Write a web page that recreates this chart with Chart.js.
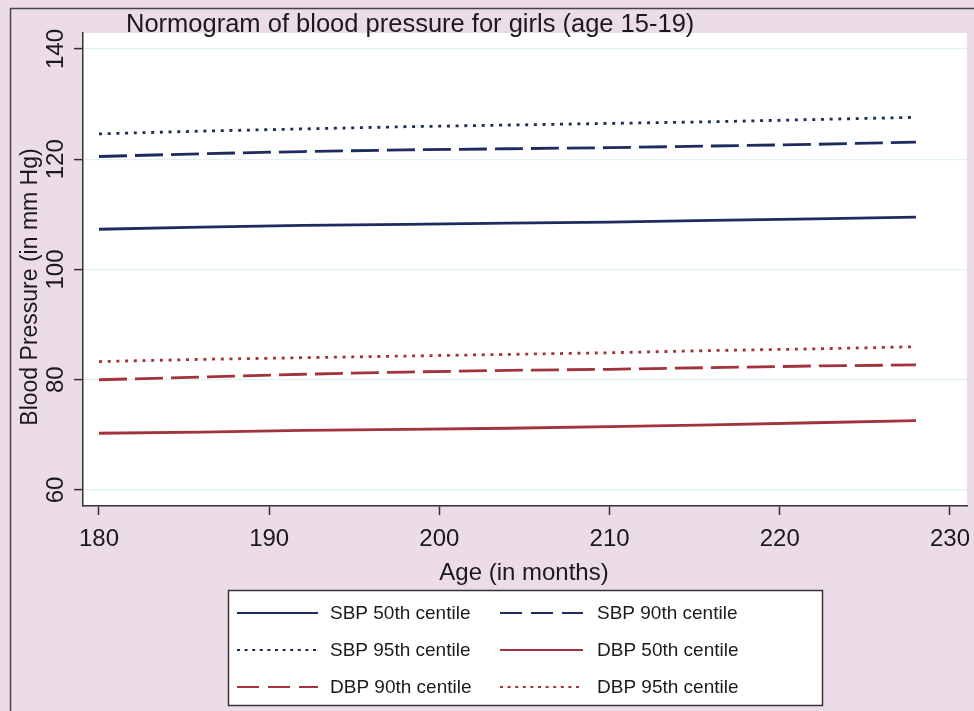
<!DOCTYPE html>
<html>
<head>
<meta charset="utf-8">
<script src="https://cdn.jsdelivr.net/npm/chart.js@4/dist/chart.umd.min.js"></script>
<style>
  html, body { margin: 0; padding: 0; background: #ecdce8; }
  canvas { display: block; }
</style>
</head>
<body>
<canvas id="bp" width="974" height="711"></canvas>
<script>
// ages (months)
var ages = [180, 186, 192, 198, 204, 210, 216, 222, 228];

var sbp50 = [107.3, 107.7, 108.0, 108.2, 108.4, 108.6, 108.9, 109.2, 109.5];
var sbp90 = [120.5, 121.0, 121.4, 121.7, 121.9, 122.1, 122.4, 122.7, 123.1];
var sbp95 = [124.6, 125.1, 125.5, 125.9, 126.2, 126.5, 126.8, 127.2, 127.6];
var dbp50 = [70.3, 70.5, 70.8, 71.0, 71.2, 71.5, 71.8, 72.2, 72.6];
var dbp90 = [80.0, 80.5, 81.0, 81.4, 81.7, 81.9, 82.2, 82.5, 82.7];
var dbp95 = [83.3, 83.7, 84.0, 84.3, 84.6, 84.9, 85.3, 85.6, 86.0];

var seriesNames = ["SBP 50th centile", "SBP 90th centile", "SBP 95th centile",
                   "DBP 50th centile", "DBP 90th centile", "DBP 95th centile"];

var xTicks = [180, 190, 200, 210, 220, 230];
var yTicks = [60, 80, 100, 120, 140];

var titleText = "Normogram of blood pressure for girls (age 15-19)";
var xTitle = "Age (in months)";
var yTitle = "Blood Pressure (in mm Hg)";

var NAVY = "#1e2b5e";
var RED = "#a2323c";
var FONT = "'Liberation Sans', Arial, sans-serif";
var TXT = "#1a1a1a";

var solid = [];
var longDash = [28, 8];
var dots = [3, 5.7];

function pts(vals) {
    var out = [];
    for (var i = 0; i < ages.length; i++) {
        out.push({x: ages[i], y: vals[i]});
    }
    return out;
}

function ds(label, vals, color, dash) {
    return {
        label: label,
        data: pts(vals),
        borderColor: color,
        backgroundColor: color,
        borderWidth: 2.8,
        borderDash: dash,
        pointRadius: 0,
        tension: 0,
        fill: false
    };
}

// white plot region, frame, texts and legend box
var decor = {
    id: "decor",
    beforeDraw: function (chart) {
        var ctx = chart.ctx, a = chart.chartArea;
        ctx.save();
        ctx.fillStyle = "#ecdce8";
        ctx.fillRect(0, 0, chart.width, chart.height);
        ctx.strokeStyle = "#444";
        ctx.lineWidth = 1.5;
        ctx.beginPath();
        ctx.moveTo(10.5, chart.height + 2);
        ctx.lineTo(10.5, 8.5);
        ctx.lineTo(chart.width + 2, 8.5);
        ctx.stroke();
        ctx.fillStyle = "#ffffff";
        ctx.fillRect(a.left, a.top, a.right - a.left, a.bottom - a.top);
        ctx.restore();
    },
    afterDraw: function (chart) {
        var ctx = chart.ctx;
        var xs = chart.scales.x, ys = chart.scales.y;
        ctx.save();
        ctx.fillStyle = TXT;

        // title
        ctx.font = "25.5px " + FONT;
        ctx.textAlign = "left";
        ctx.textBaseline = "alphabetic";
        ctx.fillText(titleText, 126, 32);

        // x tick labels
        ctx.font = "24px " + FONT;
        ctx.textAlign = "center";
        xTicks.forEach(function (v) {
            ctx.fillText(String(v), xs.getPixelForValue(v), 546);
        });
        ctx.fillText(xTitle, 524, 580);

        // y tick labels, rotated
        yTicks.forEach(function (v) {
            ctx.save();
            ctx.translate(63, ys.getPixelForValue(v));
            ctx.rotate(-Math.PI / 2);
            ctx.textAlign = "center";
            ctx.fillText(String(v), 0, 0);
            ctx.restore();
        });
        ctx.save();
        ctx.font = "23px " + FONT;
        ctx.translate(37, 287);
        ctx.rotate(-Math.PI / 2);
        ctx.textAlign = "center";
        ctx.fillText(yTitle, 0, 0);
        ctx.restore();

        // legend
        ctx.fillStyle = "#ffffff";
        ctx.fillRect(228, 590, 594, 115);
        ctx.strokeStyle = "#333";
        ctx.lineWidth = 1.5;
        ctx.strokeRect(228.5, 590.5, 594, 115);
        var rowsY = [613, 650, 687];
        var cols = [{x0: 237, x1: 318, tx: 330}, {x0: 500, x1: 583, tx: 597}];
        ctx.font = "19px " + FONT;
        ctx.textAlign = "left";
        ctx.textBaseline = "middle";
        chart.data.datasets.forEach(function (d, i) {
            var c = cols[i % 2], y = rowsY[Math.floor(i / 2)];
            ctx.strokeStyle = d.borderColor;
            ctx.lineWidth = 2.2;
            ctx.setLineDash(d.borderDash.length ? (d.borderDash[0] > 10 ? [22, 9] : [3, 4.6]) : []);
            ctx.beginPath();
            ctx.moveTo(c.x0, y);
            ctx.lineTo(c.x1, y);
            ctx.stroke();
            ctx.setLineDash([]);
            ctx.fillStyle = TXT;
            ctx.fillText(d.label, c.tx, y + 1);
        });
        ctx.restore();
    }
};

new Chart(document.getElementById("bp"), {
    type: "line",
    data: {
        datasets: [
            ds(seriesNames[0], sbp50, NAVY, solid),
            ds(seriesNames[1], sbp90, NAVY, longDash),
            ds(seriesNames[2], sbp95, NAVY, dots),
            ds(seriesNames[3], dbp50, RED, solid),
            ds(seriesNames[4], dbp90, RED, longDash),
            ds(seriesNames[5], dbp95, RED, dots)
        ]
    },
    options: {
        responsive: false,
        animation: false,
        layout: {padding: {left: 74, right: 7, top: 33, bottom: 196}},
        plugins: {
            legend: {display: false},
            title: {display: false},
            tooltip: {enabled: false}
        },
        scales: {
            x: {
                type: "linear",
                min: 179.06,
                max: 231,
                afterBuildTicks: function (s) { s.ticks = xTicks.map(function (v) { return {value: v}; }); },
                ticks: {display: false},
                grid: {drawOnChartArea: false, tickLength: 9, tickColor: "#333", tickWidth: 1.5},
                border: {color: "#333", width: 1.5}
            },
            y: {
                min: 57.1,
                max: 142.9,
                afterBuildTicks: function (s) { s.ticks = yTicks.map(function (v) { return {value: v}; }); },
                ticks: {display: false},
                grid: {color: "#e1f1f3", lineWidth: 1.2, tickLength: 9, tickColor: "#333", tickWidth: 1.5},
                border: {color: "#333", width: 1.5}
            }
        }
    },
    plugins: [decor]
});
</script>
</body>
</html>
